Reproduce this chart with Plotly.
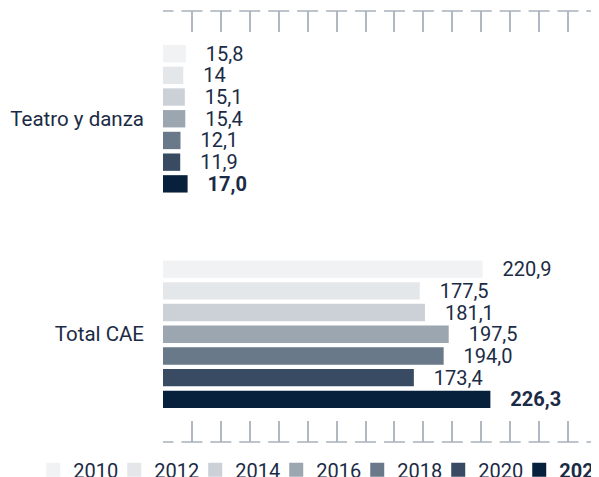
import plotly.graph_objects as go

categories = ["Teatro y danza", "Total CAE"]
years = ["2010", "2012", "2014", "2016", "2018", "2020", "2022"]
values = {
    "2010": [15.8, 220.9],
    "2012": [14.0, 177.5],
    "2014": [15.1, 181.1],
    "2016": [15.4, 197.5],
    "2018": [12.1, 194.0],
    "2020": [11.9, 173.4],
    "2022": [17.0, 226.3],
}
labels = {
    "2010": ["15,8", "220,9"],
    "2012": ["14", "177,5"],
    "2014": ["15,1", "181,1"],
    "2016": ["15,4", "197,5"],
    "2018": ["12,1", "194,0"],
    "2020": ["11,9", "173,4"],
    "2022": ["17,0", "226,3"],
}
colors = ["#f1f2f4", "#e4e7ea", "#ccd1d8", "#9ca6b1", "#6a7989", "#384b63", "#07203b"]

TEXT = "#1b2b45"
FONT = "Roboto"
# page body has an 8px margin; figure sized so the plot sits where the reference has it
W, H = 591, 469
ML, MR, MT, MB = 155, 2, 3, 35
XMAX, DT = 300, 20
PAD = "\u00a0\u00a0\u00a0\u200a"

fig = go.Figure()
for yr, col in zip(years, colors):
    bold = yr == years[-1]
    fig.add_trace(go.Bar(
        y=categories, x=values[yr], orientation="h",
        name=f"<b>{yr}</b>" if bold else yr,
        marker=dict(color=col, line=dict(width=0)),
        text=[PAD + t for t in labels[yr]],
        textposition="outside", constraintext="none", cliponaxis=False,
        textfont=dict(family=FONT, size=20, color=TEXT, weight="bold" if bold else "normal"),
        hoverinfo="skip", showlegend=False,
    ))
# legend entries with square swatches
for yr, col in zip(years, colors):
    bold = yr == years[-1]
    fig.add_trace(go.Scatter(
        x=[None], y=[None], mode="markers",
        name=f"<b>{yr}</b>" if bold else yr,
        marker=dict(symbol="square", size=14, color=col, line=dict(width=0)),
        hoverinfo="skip",
    ))

# dashed axis lines that form the T-shaped tick marks
plot_w = W - ML - MR
period = plot_w / (XMAX / DT)
seg = 21
gap = period - seg
nseg = int(XMAX / DT) - 1
dash = ",".join([f"{seg/2:.2f}px", f"{gap:.2f}px"] + [f"{seg:.2f}px,{gap:.2f}px"] * nseg + [f"{seg/2:.2f}px"])
for yy in (0, 1):
    fig.add_shape(type="line", xref="x", yref="paper", x0=0, x1=XMAX, y0=yy, y1=yy,
                  line=dict(color="#a9b1bc", width=1.5, dash=dash))

fig.update_layout(
    width=W, height=H,
    margin=dict(l=ML, r=MR, t=MT, b=MB, autoexpand=False),
    paper_bgcolor="white", plot_bgcolor="white",
    barmode="group", bargap=0.295, bargroupgap=0.2,
    font=dict(family=FONT, color=TEXT, size=20),
    showlegend=True,
    legend=dict(orientation="h", x=-0.299, xanchor="left", y=-0.019, yanchor="top",
                traceorder="normal", font=dict(size=20, color=TEXT, family=FONT),
                itemwidth=30, entrywidth=36, entrywidthmode="pixels",
                bgcolor="rgba(0,0,0,0)"),
    xaxis=dict(range=[0, XMAX], dtick=DT, tick0=0, showgrid=False, zeroline=False,
               showline=False, ticks="inside", ticklen=21, tickwidth=1.5,
               tickcolor="#b0b8c3", mirror="ticks", showticklabels=False),
    yaxis=dict(range=[1.5, -0.5], showgrid=False, zeroline=False, showline=False,
               ticks="", tickfont=dict(size=20.5, color=TEXT, family=FONT),
               ticklabelstandoff=18),
)

fig.write_html("out.html")
